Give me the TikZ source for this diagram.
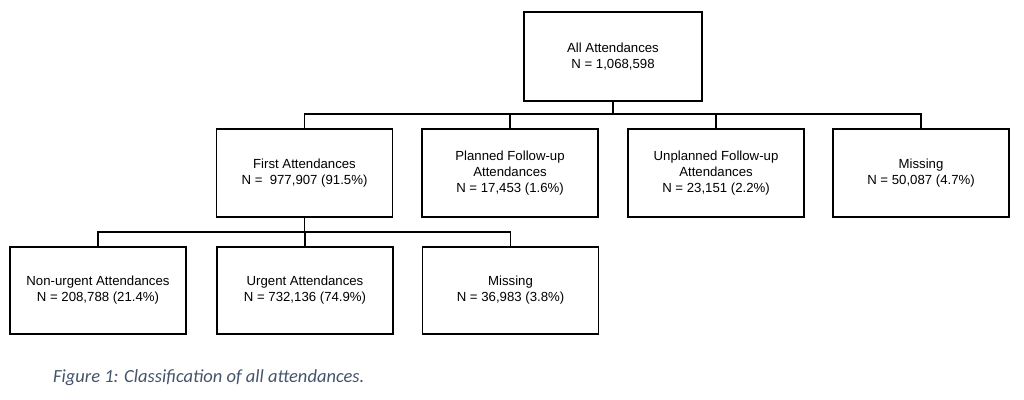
\documentclass[tikz,border=0pt]{standalone}
\usepackage{fontspec}
\setmainfont{Liberation Sans}
\newfontfamily\capfont{Carlito}
\definecolor{capcol}{HTML}{44546A}
\begin{document}
\begin{tikzpicture}[x=1pt,y=-1pt,
  box/.style={draw=black,line width=1.6pt,rectangle,minimum width=176pt,minimum height=88pt,align=center,inner sep=2pt,
    font=\fontsize{13.2pt}{16pt}\selectfont},
  conn/.style={draw=black,line width=1.2pt}]
\useasboundingbox (0,0) rectangle (1024,399);
\node[box,minimum width=178pt,minimum height=89pt] (top) at (613,56.5) {All Attendances\\N = 1,068,598};
\node[box] (first) at (304.5,173) {First Attendances\\N = \ 977,907 (91.5\%)};
\node[box] (planned) at (510,173) {Planned Follow-up\\Attendances\\N = 17,453 (1.6\%)};
\node[box] (unplanned) at (716,173) {Unplanned Follow-up\\Attendances\\N = 23,151 (2.2\%)};
\node[box] (miss1) at (921,173) {Missing\\N = 50,087 (4.7\%)};
\node[box,minimum height=87pt] (nonurg) at (98,290.5) {Non-urgent Attendances\\N = 208,788 (21.4\%)};
\node[box,minimum height=87pt] (urgent) at (305,290.5) {Urgent Attendances\\N = 732,136 (74.9\%)};
\node[box,minimum height=87pt] (miss2) at (510.5,290.5) {Missing\\N = 36,983 (3.8\%)};
\coordinate (b1) at (613,114);
\coordinate (b2) at (304.5,232);
\draw[conn] (top.south) -- (b1);
\draw[conn] (first.north) -- (first.north |- b1) -- (miss1.north |- b1) -- (miss1.north);
\draw[conn] (planned.north) -- (planned.north |- b1);
\draw[conn] (unplanned.north) -- (unplanned.north |- b1);
\draw[conn] (first.south) -- (b2);
\draw[conn] (nonurg.north) -- (nonurg.north |- b2) -- (miss2.north |- b2) -- (miss2.north);
\draw[conn] (urgent.north) -- (urgent.north |- b2);
\node[anchor=base west,inner sep=0pt,text=capcol,font=\capfont\itshape\fontsize{18.5pt}{20pt}\selectfont] (cap) at (53,382) {Figure 1: Classification of all attendances.};
\end{tikzpicture}
\end{document}
